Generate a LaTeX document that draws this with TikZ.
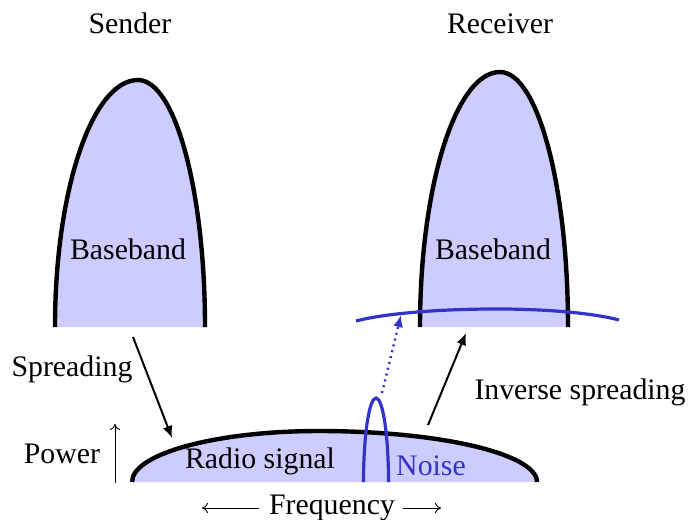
\documentclass[tikz,border=0pt]{standalone}
\usepackage{fontspec}
\setmainfont{Liberation Serif}
\usetikzlibrary{arrows.meta}
\definecolor{bandfill}{RGB}{204,204,255}
\definecolor{noiseblue}{RGB}{51,51,204}
\begin{document}
\begin{tikzpicture}[x=0.5pt,y=-0.5pt,
  lbl/.style={font=\fontsize{14.9}{17}\selectfont, inner sep=0pt, anchor=base},
  outline/.style={line width=2.2pt, black},
  bluecurve/.style={line width=1.6pt, noiseblue},
  bigarrow/.style={line width=1pt, -{Latex[length=6pt,width=5pt]}},
  thinarrow/.style={line width=0.45pt, -{To[length=3pt,width=5pt]}}]
\useasboundingbox (0,0) rectangle (688,519);

% ---- Sender baseband
\fill[bandfill] (55,327) arc[start angle=180,end angle=270,x radius=83,y radius=247] -- (138,327) -- cycle;
\fill[bandfill] (138,80) arc[start angle=270,end angle=360,x radius=67,y radius=247] -- (138,327) -- cycle;
\draw[outline] (55,327) arc[start angle=180,end angle=270,x radius=83,y radius=247]
  arc[start angle=270,end angle=360,x radius=67,y radius=247];

% ---- Receiver baseband
\fill[bandfill] (420,327) arc[start angle=180,end angle=270,x radius=80,y radius=255] -- (500,327) -- cycle;
\fill[bandfill] (500,72) arc[start angle=270,end angle=360,x radius=68,y radius=255] -- (500,327) -- cycle;
\draw[outline] (420,327) arc[start angle=180,end angle=270,x radius=80,y radius=255]
  arc[start angle=270,end angle=360,x radius=68,y radius=255];

% ---- spread noise at receiver
\draw[bluecurve] (356,321) arc[start angle=208.2,end angle=270,x radius=160,y radius=22.8]
  arc[start angle=270,end angle=328.8,x radius=142.6,y radius=22.8];

% ---- Radio signal
\fill[bandfill] (132,482) arc[start angle=180,end angle=270,x radius=187,y radius=51] -- (319,482) -- cycle;
\fill[bandfill] (319,431) arc[start angle=270,end angle=360,x radius=218,y radius=51] -- (319,482) -- cycle;
\draw[outline] (132,482) arc[start angle=180,end angle=270,x radius=187,y radius=51]
  arc[start angle=270,end angle=360,x radius=218,y radius=51];

% ---- Noise bump
\draw[bluecurve] (363.5,482) arc[start angle=180,end angle=360,x radius=12.5,y radius=84];

% ---- Labels
\node[lbl] (sender) at (130,34) {Sender};
\node[lbl] (receiver) at (500,34) {Receiver};
\node[lbl] (bb1) at (128,259) {Baseband};
\node[lbl] (bb2) at (493,259) {Baseband};
\node[lbl] (spread) at (72,376) {Spreading};
\node[lbl] (inv) at (580,399) {Inverse spreading};
\node[lbl] (power) at (62,463) {Power};
\node[lbl] (radio) at (260,468) {Radio signal};
\node[lbl, text=noiseblue] (noise) at (431,475) {Noise};
\node[lbl] (freq) at (332,514) {Frequency};

% ---- arrows
\coordinate (s1) at (133,337);
\coordinate (s2) at (172,438);
\coordinate (r1) at (428,425);
\coordinate (r2) at (466,333);
\coordinate (n1) at (382,393);
\coordinate (n2) at (401,315);
\draw[bigarrow] (s1) -- (s2);
\draw[bigarrow] (r1) -- (r2);
\draw[bigarrow, noiseblue, dotted, line width=1.2pt] (n1) -- (n2);

\coordinate (p1) at (115,483);
\coordinate (p2) at (115,424);
\draw[thinarrow] (p1) -- (p2);
\coordinate (f1) at (259,508);
\coordinate (f2) at (202,508);
\coordinate (f3) at (403,508);
\coordinate (f4) at (441,508);
\draw[thinarrow] (f1) -- (f2);
\draw[thinarrow] (f3) -- (f4);
\end{tikzpicture}
\end{document}
